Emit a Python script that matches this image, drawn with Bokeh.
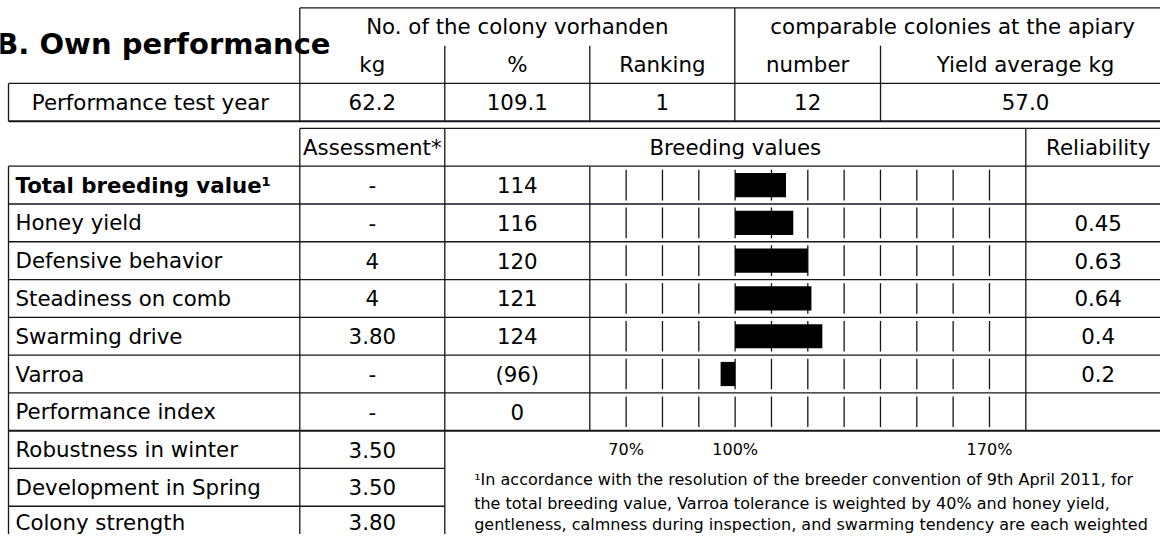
from bokeh.plotting import figure
from bokeh.models import Range1d, ColumnDataSource
from bokeh.core.properties import value
from bokeh.embed import file_html
from bokeh.resources import INLINE

# ---------------- data ----------------
title = "B. Own performance"
perf_group_labels = ["No. of the colony vorhanden", "comparable colonies at the apiary"]
perf_sub_labels = ["kg", "%", "Ranking", "number", "Yield average kg"]
perf_row_label = "Performance test year"
perf_values = ["62.2", "109.1", "1", "12", "57.0"]

bv_header = ["Assessment*", "Breeding values", "Reliability"]
traits = ["Total breeding value\u00b9", "Honey yield", "Defensive behavior",
          "Steadiness on comb", "Swarming drive", "Varroa", "Performance index"]
assessment = ["-", "-", "4", "4", "3.80", "-", "-"]
bv_labels = ["114", "116", "120", "121", "124", "(96)", "0"]
bv_values = [114, 116, 120, 121, 124, 96]          # bars (no bar for Performance index)
reliability = ["", "0.45", "0.63", "0.64", "0.4", "0.2", ""]
extra_traits = ["Robustness in winter", "Development in Spring", "Colony strength"]
extra_assessment = ["3.50", "3.50", "3.80"]

scale_ticks = [70, 80, 90, 100, 110, 120, 130, 140, 150, 160, 170]
scale_labels = ["70%", "100%", "170%"]
scale_label_values = [70, 100, 170]
scale_base = 100

footnote = [
    "\u00b9In accordance with the resolution of the breeder convention of 9th April 2011, for",
    "the total breeding value, Varroa tolerance is weighted by 40% and honey yield,",
    "gentleness, calmness during inspection, and swarming tendency are each weighted",
    "by 15%.",
]

# ---------------- layout (px for columns, row units for rows) ----------------
X0, X1, X2, X3, X4, X5, X6, X7 = 8, 299.3, 444.3, 589.3, 734.3, 880, 1025.3, 1170
FONT = value("DejaVu Sans")
LC = "#15151c"
LW = 1.3

p = figure(width=1160, height=534, output_backend="svg", toolbar_location=None,
           x_range=Range1d(0, 1160), y_range=Range1d(9.748, -4.386),
           min_border=0, outline_line_color=None,
           x_axis_location=None, y_axis_location=None,
           background_fill_color="white", border_fill_color="white")
p.xgrid.visible = False
p.ygrid.visible = False
p.extra_x_ranges = {"pct": Range1d(-102.19, 217.07)}


def txt(xs, ys, texts, size="21.33px", align="center", bold=False, rng="default"):
    src = ColumnDataSource(dict(x=xs, y=ys, t=texts))
    p.text(x="x", y="y", text="t", source=src, text_font=FONT, text_font_size=size,
           text_align=align, text_baseline="middle", text_color="black",
           text_font_style="bold" if bold else "normal", x_range_name=rng)


def segs(x0, y0, x1, y1, w=LW, rng="default"):
    src = ColumnDataSource(dict(x0=x0, y0=y0, x1=x1, y1=y1))
    p.segment(x0="x0", y0="y0", x1="x1", y1="y1", source=src, line_color=LC,
              line_width=w, x_range_name=rng)


# ---------------- top table ----------------
TT = [-4.19, -3.19, -2.19, -1.19]   # row boundaries
segs([X1, X0], [TT[0], TT[2]], [X7, X7], [TT[0], TT[2]])
segs([X0], [TT[3]], [X7], [TT[3]], w=2)
segs([X0, X1, X2, X3, X4, X5, X7],
     [TT[2], TT[0], TT[1], TT[1], TT[0], TT[1], TT[0]],
     [X0, X1, X2, X3, X4, X5, X7],
     [TT[3]] * 7)

txt([330], [-3.232], [title], size="29px", align="right", bold=True)
txt([(X1 + X4) / 2, (X4 + X7) / 2], [-3.69, -3.69], perf_group_labels)
centers = [(X1 + X2) / 2, (X2 + X3) / 2, (X3 + X4) / 2, (X4 + X5) / 2, (X5 + X7) / 2]
txt(centers, [-2.69] * 5, perf_sub_labels)
txt([150], [-1.69], [perf_row_label])
txt(centers, [-1.69] * 5, perf_values)

# ---------------- breeding value table ----------------
n = len(traits)
rows = list(range(n))
segs([X1], [-1], [X7], [-1])
segs([X0] * n, rows, [X7] * n, rows)
segs([X0], [n], [X7], [n], w=2)
m = len(extra_traits)
segs([X0] * m, [n + 1 + i for i in range(m)], [X2] * m, [n + 1 + i for i in range(m)])
segs([X0, X1, X2, X3, X6, X7], [0, -1, -1, 0, -1, -1],
     [X0, X1, X2, X3, X6, X7], [n + m, n + m, n + m, n, n, n])

# scale tick marks within each row
tx, ty0, ty1 = [], [], []
for r in rows:
    for t in scale_ticks:
        tx.append(t)
        ty0.append(r + 0.095)
        ty1.append(r + 0.905)
segs(tx, ty0, tx, ty1, rng="pct")

# bars
bsrc = ColumnDataSource(dict(y=[r + 0.5 for r in range(len(bv_values))], right=bv_values,
                             left=[scale_base] * len(bv_values)))
p.hbar(y="y", left="left", right="right", height=0.64, source=bsrc,
       fill_color="black", line_color=None, x_range_name="pct")

# header texts
txt([(X1 + X2) / 2, (X2 + X6) / 2, (X6 + X7) / 2], [-0.5] * 3, bv_header)
# row texts
mid = [r + 0.5 for r in rows]
txt([15], [mid[0]], [traits[0]], align="left", bold=True)
txt([15] * (n - 1), mid[1:], traits[1:], align="left")
txt([(X1 + X2) / 2] * n, mid, assessment)
txt([(X2 + X3) / 2] * n, mid, bv_labels)
txt([(X6 + X7) / 2] * n, mid, reliability)
emid = [n + 0.5, n + 1.5, n + 2.43]   # last row nudged up to stay inside the canvas
txt([15] * m, emid, extra_traits, align="left")
txt([(X1 + X2) / 2] * m, emid, extra_assessment)

# scale labels
txt(scale_label_values, [7.503] * 3, scale_labels, size="16px", rng="pct")

# footnote
txt([473.7] * len(footnote), [8.298, 8.915, 9.471, 10.071], footnote, size="16px", align="left")

open("out.html", "w").write(file_html(p, INLINE))
